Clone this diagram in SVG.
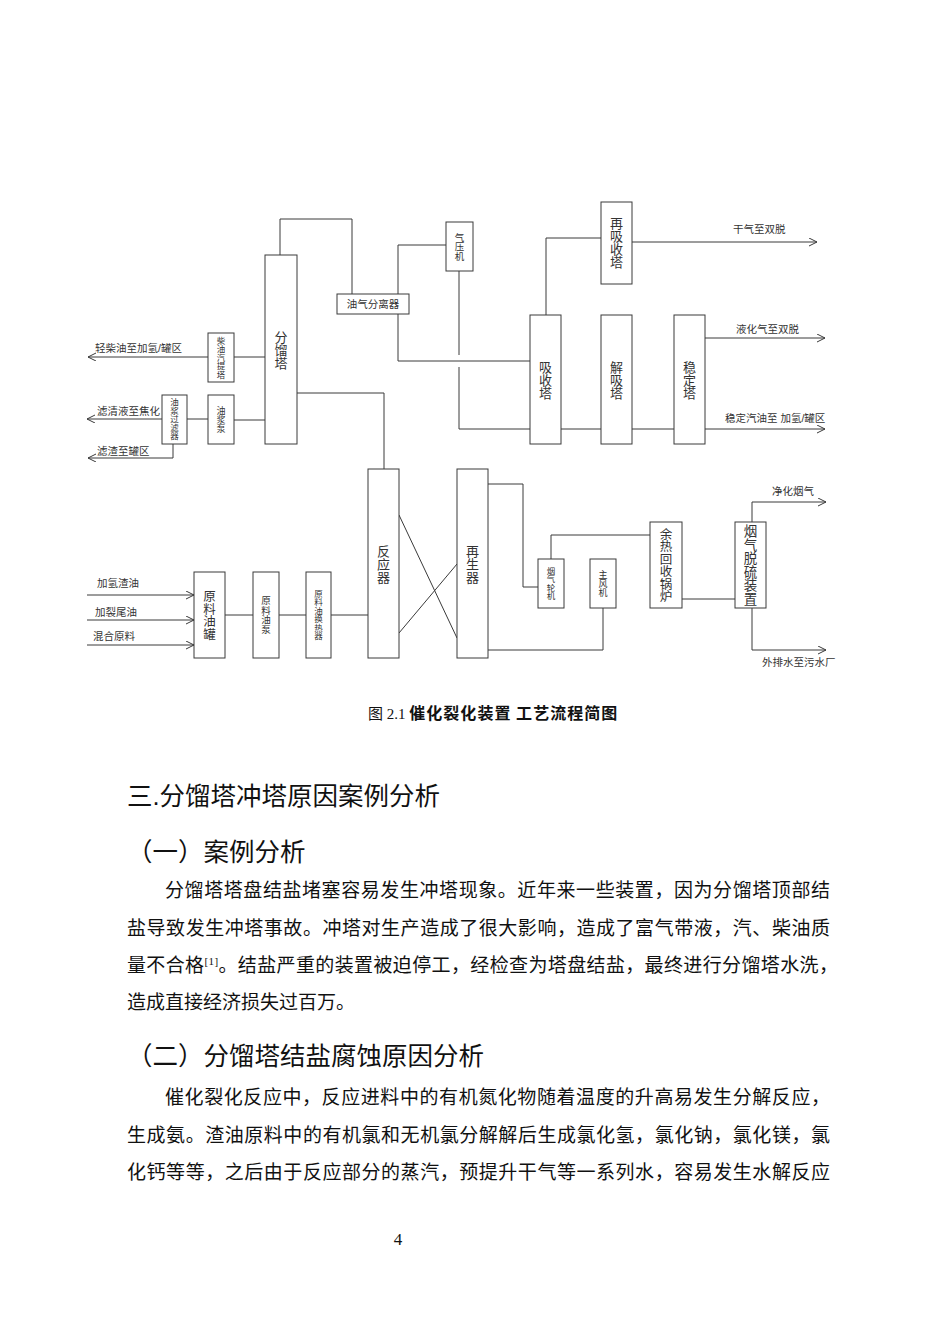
<svg xmlns="http://www.w3.org/2000/svg" width="950" height="1344" viewBox="0 0 950 1344">
<style>
.box{fill:#fff;stroke:#3a3a3a;stroke-width:1}
.ln{fill:none;stroke:#3a3a3a;stroke-width:1}
.arr{marker-end:url(#oa)}
.lbl{font-family:"Liberation Sans","Noto Sans CJK SC",sans-serif;font-size:10.5px;fill:#333}
.vt{font-family:"Noto Sans CJK SC",sans-serif;fill:#333;text-anchor:middle;writing-mode:vertical-rl}
.body{font-family:"Liberation Serif","Noto Sans CJK SC",serif;font-size:19px;fill:#111}
.h{font-family:"Liberation Sans","Noto Sans CJK SC",sans-serif;font-size:25.5px;fill:#111}
</style>
<defs>
<marker id="oa" markerUnits="userSpaceOnUse" markerWidth="10" markerHeight="10" refX="8" refY="4" orient="auto">
<path d="M0,0 L8,4 L0,8" fill="none" stroke="#3a3a3a" stroke-width="1"/>
</marker>
</defs>
<rect width="950" height="1344" fill="#fff"/>

<g id="connectors">
<polyline class="ln" points="280,255 280,219 352,219 352,294"/>
<polyline class="ln" points="297,393 384,393 384,469"/>
<polyline class="ln" points="446,245 398,245 398,294"/>
<polyline class="ln" points="398,314 398,361 530,361"/>
<polyline class="ln" points="459,271 459,355"/>
<polyline class="ln" points="459,367 459,429 530,429"/>
<polyline class="ln" points="546,315 546,238 601,238"/>
<line class="ln arr" x1="632" y1="242" x2="817" y2="242"/>
<line class="ln" x1="561" y1="429" x2="601" y2="429"/>
<line class="ln" x1="632" y1="429" x2="674" y2="429"/>
<line class="ln arr" x1="705" y1="429" x2="825" y2="429"/>
<line class="ln arr" x1="705" y1="338" x2="825" y2="338"/>
<line class="ln" x1="265" y1="357" x2="234" y2="357"/>
<line class="ln arr" x1="208" y1="357" x2="88" y2="357"/>
<line class="ln" x1="265" y1="420" x2="234" y2="420"/>
<line class="ln" x1="208" y1="419" x2="187" y2="419"/>
<line class="ln arr" x1="162" y1="419" x2="87" y2="419"/>
<polyline class="ln arr" points="173,444 173,458 88,458"/>
<line class="ln arr" x1="87" y1="595" x2="194" y2="595"/>
<line class="ln arr" x1="87" y1="620" x2="194" y2="620"/>
<line class="ln arr" x1="87" y1="645" x2="194" y2="645"/>
<line class="ln" x1="225" y1="615" x2="253" y2="615"/>
<line class="ln" x1="279" y1="615" x2="306" y2="615"/>
<line class="ln" x1="331" y1="615" x2="368" y2="615"/>
<line class="ln" x1="399" y1="515" x2="457" y2="638"/>
<line class="ln" x1="399" y1="633" x2="457" y2="564"/>
<polyline class="ln" points="488,484 523,484 523,587 538,587"/>
<polyline class="ln" points="551,559 551,535 650,535"/>
<polyline class="ln" points="603,608 603,650 488,650"/>
<line class="ln" x1="682" y1="599" x2="735" y2="599"/>
<polyline class="ln arr" points="752,522 752,502 826,502"/>
<polyline class="ln arr" points="752,608 752,650 826,650"/>
</g>

<g id="labels">
<text class="lbl" x="733" y="233">干气至双脱</text>
<text class="lbl" x="736" y="333">液化气至双脱</text>
<text class="lbl" x="725" y="422">稳定汽油至 加氢/罐区</text>
<text class="lbl" x="95" y="352">轻柴油至加氢/罐区</text>
<text class="lbl" x="97" y="415">滤清液至焦化</text>
<text class="lbl" x="97" y="455">滤渣至罐区</text>
<text class="lbl" x="97" y="587">加氢渣油</text>
<text class="lbl" x="95" y="616">加裂尾油</text>
<text class="lbl" x="93" y="640">混合原料</text>
<text class="lbl" x="772" y="495">净化烟气</text>
<text class="lbl" x="762" y="666">外排水至污水厂</text>
</g>

<g id="fenliuta"><rect class="box" x="265" y="255" width="32" height="189"/>
<text class="vt" x="281" y="350" font-size="13">分馏塔</text></g>

<g id="youqifenliqi"><rect class="box" x="337" y="294" width="72" height="20"/>
<text class="lbl" x="373" y="308" text-anchor="middle">油气分离器</text></g>

<g id="qiyaji"><rect class="box" x="446" y="222" width="27" height="49"/>
<text class="vt" x="459.5" y="246.5" font-size="9.5">气压机</text></g>

<g id="xishouta"><rect class="box" x="530" y="315" width="31" height="129"/>
<text class="vt" x="545.5" y="380" font-size="13">吸收塔</text></g>

<g id="zaixishouta"><rect class="box" x="601" y="202" width="31" height="82"/>
<text class="vt" x="616.5" y="243" font-size="13">再吸收塔</text></g>

<g id="jiexita"><rect class="box" x="601" y="315" width="31" height="129"/>
<text class="vt" x="616.5" y="380" font-size="13">解吸塔</text></g>

<g id="wendingta"><rect class="box" x="674" y="315" width="31" height="129"/>
<text class="vt" x="689.5" y="380" font-size="13">稳定塔</text></g>

<g id="chaiyouqitita"><rect class="box" x="208" y="333" width="26" height="49"/>
<text class="vt" x="221" y="357.5" font-size="8.5">柴油汽提塔</text></g>

<g id="youjiangbeng"><rect class="box" x="208" y="395" width="26" height="49"/>
<text class="vt" x="221" y="419.5" font-size="9">油浆泵</text></g>

<g id="youjiangguolvqi"><rect class="box" x="162" y="395" width="25" height="49"/>
<text class="vt" x="174.5" y="419" font-size="8.5">油浆过滤器</text></g>

<g id="yuanliaoyouguan"><rect class="box" x="194" y="572" width="31" height="86"/>
<text class="vt" x="209.5" y="615" font-size="12.5">原料油罐</text></g>

<g id="yuanliaoyoubeng"><rect class="box" x="253" y="572" width="26" height="86"/>
<text class="vt" x="266" y="615" font-size="9.5">原料油泵</text></g>

<g id="yuanliaoyouhuanreqi"><rect class="box" x="306" y="572" width="25" height="86"/>
<text class="vt" x="318.5" y="615" font-size="8.5">原料油换热器</text></g>

<g id="fanyingqi"><rect class="box" x="368" y="469" width="31" height="189"/>
<text class="vt" x="383.5" y="564" font-size="13">反应器</text></g>

<g id="zaishengqi"><rect class="box" x="457" y="469" width="31" height="189"/>
<text class="vt" x="472.5" y="564" font-size="13">再生器</text></g>

<g id="yanqilunji"><rect class="box" x="538" y="559" width="26" height="49"/>
<text class="vt" x="551" y="583.5" font-size="8.5">烟气轮机</text></g>

<g id="zhufengji"><rect class="box" x="590" y="559" width="26" height="49"/>
<text class="vt" x="603" y="583.5" font-size="9">主风机</text></g>

<g id="yurehuishouguolu"><rect class="box" x="650" y="522" width="32" height="86"/>
<text class="vt" x="666" y="565" font-size="12.5">余热回收锅炉</text></g>

<g id="yanqituoliu"><rect class="box" x="735" y="522" width="31" height="86"/>
<text class="vt" x="750.5" y="565" font-size="13.5">烟气脱硫装置</text></g>

<g id="text">
<text x="368" y="719" font-family="Liberation Serif,Noto Sans CJK SC,serif" font-size="15" fill="#111">图 2.1 <tspan font-family="Noto Sans CJK SC,sans-serif" font-size="16" font-weight="bold" textLength="208" lengthAdjust="spacing">催化裂化装置 工艺流程简图</tspan></text>
<text class="h" x="127" y="805">三.分馏塔冲塔原因案例分析</text>
<text class="h" x="127" y="861">（一）案例分析</text>
<text class="body" x="165" y="897" textLength="665" lengthAdjust="spacing">分馏塔塔盘结盐堵塞容易发生冲塔现象。近年来一些装置，因为分馏塔顶部结</text>
<text class="body" x="127" y="935" textLength="703" lengthAdjust="spacing">盐导致发生冲塔事故。冲塔对生产造成了很大影响，造成了富气带液，汽、柴油质</text>
<text class="body" x="127" y="972" textLength="711" lengthAdjust="spacing">量不合格<tspan font-size="11" dy="-7">[1]</tspan><tspan dy="7">。结盐严重的装置被迫停工，经检查为塔盘结盐，最终进行分馏塔水洗，</tspan></text>
<text class="body" x="127" y="1009">造成直接经济损失过百万。</text>
<text class="h" x="127" y="1065">（二）分馏塔结盐腐蚀原因分析</text>
<text class="body" x="165" y="1104" textLength="665" lengthAdjust="spacing">催化裂化反应中，反应进料中的有机氮化物随着温度的升高易发生分解反应，</text>
<text class="body" x="127" y="1142" textLength="703" lengthAdjust="spacing">生成氨。渣油原料中的有机氯和无机氯分解解后生成氯化氢，氯化钠，氯化镁，氯</text>
<text class="body" x="127" y="1179" textLength="703" lengthAdjust="spacing">化钙等等，之后由于反应部分的蒸汽，预提升干气等一系列水，容易发生水解反应</text>
<text x="398" y="1245" font-family="Liberation Serif,serif" font-size="17" fill="#111" text-anchor="middle">4</text>
</g>
</svg>
